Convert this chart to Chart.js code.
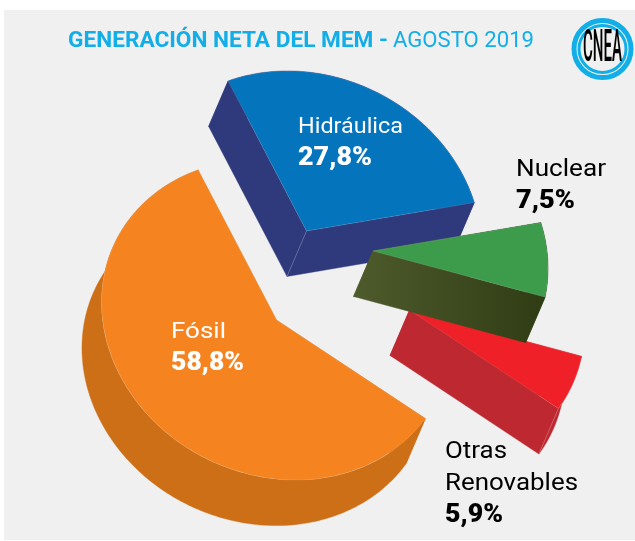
<!DOCTYPE html>
<html><head><meta charset="utf-8">
<style>html,body{margin:0;padding:0;background:#fff}canvas{display:block}</style>
<script src="https://cdn.jsdelivr.net/npm/chart.js@4"></script>
</head><body><canvas id="c" width="635" height="541"></canvas>
<script>
const categories = ["Fósil", "Hidráulica", "Nuclear", "Otras Renovables"];
const values = [58.8, 27.8, 7.5, 5.9];
const topColors = ["#F58420", "#0474BC", "#3D9B4C", "#EF2027"];
const wallColors = ["#CD6F17", "#2F3A7D", null, "#BE2830"];
const explodeX = [-41, -11, 55.5, 92];
const explodeY = [49.5, -39.5, -19.5, 39.5];
const titleBold = "GENERACIÓN NETA DEL MEM -";
const titleLight = "AGOSTO 2019";
const logoText = "CNEA";

const KY = 0.92, SHEAR = 0.11, EX = -19.5, EY = 45.5, CX = 317.5, CY = 270.5;
const CYAN = "#12AEE8", FONT = 'Roboto, sans-serif';

function applyM(ctx, tx, ty) {
  ctx.translate(CX + tx, CY + ty);
  ctx.transform(1, 0, SHEAR, KY, 0, 0);
  ctx.translate(-CX, -CY);
}
function toScreen(x, y) {
  return [CX + (x - CX) + SHEAR * (y - CY), CY + KY * (y - CY)];
}
function rimPoints(a) {
  const pts = [], n = Math.ceil((a.endAngle - a.startAngle) / 0.02);
  for (let j = 0; j <= n; j++) {
    const t = a.startAngle + (a.endAngle - a.startAngle) * j / n;
    pts.push(toScreen(a.x + a.outerRadius * Math.cos(t), a.y + a.outerRadius * Math.sin(t)));
  }
  return pts;
}
function band(ctx, pts) {
  ctx.beginPath();
  pts.forEach((p, j) => j ? ctx.lineTo(p[0], p[1]) : ctx.moveTo(p[0], p[1]));
  for (let j = pts.length - 1; j >= 0; j--) ctx.lineTo(pts[j][0] + EX, pts[j][1] + EY);
  ctx.closePath();
  ctx.fill();
  ctx.stroke();
}
function drawWall(ctx, a, i) {
  const rim = rimPoints(a), apex = toScreen(a.x, a.y);
  let fill = wallColors[i];
  if (!fill) {
    fill = ctx.createLinearGradient(apex[0] + EX, 0, rim[rim.length - 1][0], 0);
    fill.addColorStop(0, "#4E5B2C");
    fill.addColorStop(1, "#303C14");
  }
  ctx.save();
  ctx.fillStyle = fill; ctx.strokeStyle = fill; ctx.lineWidth = 0.4; ctx.lineJoin = "round";
  band(ctx, [apex, rim[0]]);
  band(ctx, [apex, rim[rim.length - 1]]);
  band(ctx, rim);
  ctx.restore();
}
function seam(ctx, a, ang) {
  let x = a.x, y = a.y;
  if (ang !== null) { x += a.outerRadius * Math.cos(ang); y += a.outerRadius * Math.sin(ang); }
  const s = toScreen(x, y);
  ctx.save();
  ctx.strokeStyle = "rgba(255,255,255,0.28)";
  ctx.lineWidth = 0.7;
  ctx.beginPath();
  ctx.moveTo(s[0], s[1]);
  ctx.lineTo(s[0] + EX, s[1] + EY);
  ctx.stroke();
  ctx.restore();
}
function text(ctx, s, x, y, color, weight, size, w) {
  ctx.save();
  ctx.font = weight + " " + size + "px " + FONT;
  ctx.fillStyle = color;
  ctx.textBaseline = "alphabetic";
  ctx.textAlign = "left";
  ctx.translate(x, y);
  ctx.scale(w / ctx.measureText(s).width, 1);
  ctx.fillText(s, 0, 0);
  ctx.restore();
}
const fmt = v => v.toFixed(1).replace(".", ",") + "%";

const pie3d = {
  id: "pie3d",
  beforeDraw(chart) {
    const ctx = chart.ctx;
    ctx.save();
    ctx.fillStyle = "#fff"; ctx.fillRect(0, 0, 635, 541);
    ctx.fillStyle = "#F0F0F0"; ctx.fillRect(4, 10, 631, 530);
    ctx.restore();
  },
  afterDatasetsUpdate(chart) {
    chart.getDatasetMeta(0).data.forEach((a, i) => {
      const dy = explodeY[i] / KY;
      a.x = CX + explodeX[i] - SHEAR * dy;
      a.y = CY + dy;
    });
  },
  beforeDatasetsDraw(chart) {
    const ctx = chart.ctx, arcs = chart.getDatasetMeta(0).data;
    [0, 1, 3].forEach(i => drawWall(ctx, arcs[i], i));
    seam(ctx, arcs[1], null);
    seam(ctx, arcs[3], arcs[3].endAngle);
    ctx.save();
    applyM(ctx, 0, 0);
  },
  afterDatasetsDraw(chart) {
    const ctx = chart.ctx, arcs = chart.getDatasetMeta(0).data;
    ctx.restore();
    drawWall(ctx, arcs[2], 2);
    ctx.save();
    applyM(ctx, 0, 0);
    arcs[2].draw(ctx);
    ctx.restore();
  },
  afterDraw(chart) {
    const ctx = chart.ctx;
    ctx.save();
    text(ctx, titleBold, 68, 47, CYAN, 700, 22, 320);
    text(ctx, titleLight, 393, 47, CYAN, 400, 22, 141);

    text(ctx, categories[1], 298, 133, "#fff", 400, 22.5, 105);
    text(ctx, fmt(values[1]), 298, 165, "#fff", 900, 25, 74);
    text(ctx, categories[0], 171, 338, "#fff", 400, 22.5, 55);
    text(ctx, fmt(values[0]), 171, 370, "#fff", 900, 25, 73);
    text(ctx, categories[2], 516, 176, "#000", 400, 23, 90);
    text(ctx, fmt(values[2]), 516, 208, "#000", 900, 25, 59);
    const parts = categories[3].split(" ");
    text(ctx, parts[0], 445, 458, "#000", 400, 23, 62);
    text(ctx, parts[1], 445, 490, "#000", 400, 23, 133);
    text(ctx, fmt(values[3]), 445, 522, "#000", 900, 25, 58);

    const lx = 602.5, ly = 49;
    ctx.strokeStyle = CYAN;
    ctx.lineWidth = 5;
    ctx.beginPath(); ctx.arc(lx, ly, 28.5, 0, Math.PI * 2); ctx.stroke();
    ctx.lineWidth = 3;
    ctx.beginPath(); ctx.arc(lx, ly, 23.5, 0, Math.PI * 2); ctx.stroke();
    ctx.translate(lx, ly);
    ctx.scale(1, 2.35);
    ctx.font = "500 19px " + FONT;
    ctx.textAlign = "center"; ctx.textBaseline = "middle";
    ctx.fillStyle = "#000";
    ctx.fillText(logoText, 0, 0.5, 39);
    ctx.restore();
  }
};

new Chart(document.getElementById("c"), {
  type: "pie",
  data: { labels: categories, datasets: [{
    data: values, backgroundColor: topColors,
    borderColor: "rgba(255,255,255,0.22)", borderWidth: 0.5, borderAlign: "center",
    clip: false, hoverOffset: 0
  }]},
  options: {
    responsive: false, animation: false, rotation: 128, radius: 174,
    layout: { padding: 0 },
    plugins: { legend: { display: false }, tooltip: { enabled: false }, title: { display: false } }
  },
  plugins: [pie3d]
});
</script></body></html>
